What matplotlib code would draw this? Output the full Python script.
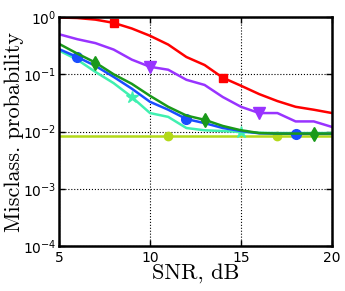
import numpy as np
import matplotlib
matplotlib.use("Agg")
import matplotlib.pyplot as plt

snr = [5, 6, 7, 8, 9, 10, 11, 12, 13, 14, 15, 16, 17, 18, 19, 20]

# misclassification probability per method
red = [0.98, 0.96, 0.9, 0.79, 0.63, 0.47, 0.33, 0.2, 0.145, 0.087, 0.063, 0.045, 0.034, 0.027, 0.024, 0.021]
purple = [0.5, 0.41, 0.35, 0.27, 0.18, 0.135, 0.12, 0.08, 0.065, 0.04, 0.027, 0.021, 0.021, 0.015, 0.015, 0.012]
green = [0.34, 0.23, 0.16, 0.1, 0.068, 0.042, 0.027, 0.019, 0.016, 0.0125, 0.0105, 0.0094, 0.0092, 0.0092, 0.0092, 0.0092]
blue = [0.275, 0.2, 0.14, 0.09, 0.056, 0.033, 0.024, 0.0165, 0.014, 0.0115, 0.0102, 0.0093, 0.0092, 0.0091, 0.0091, 0.0091]
cyan = [0.26, 0.18, 0.11, 0.07, 0.04, 0.021, 0.018, 0.0115, 0.0105, 0.0102, 0.0098, 0.0095, 0.0094, 0.0094, 0.0094, 0.0094]
ygreen = [0.0085] * 16

fig = plt.figure(figsize=(3.45, 2.91), dpi=100)
ax = fig.add_axes([59/345, 1 - 246/291, (332-59)/345, (246-17)/291])

lw = 1.8
ax.plot(snr, ygreen, color='#b3d91a', lw=lw, marker='o', ms=6, markevery=[6, 12])
ax.plot(snr, cyan, color='#40f0b0', lw=lw, marker='*', ms=9, markevery=[4, 10])
ax.plot(snr, blue, color='#1a4dff', lw=lw, marker='o', ms=7, markevery=[1, 7, 13])
ax.plot(snr, green, color='#1a991a', lw=lw, marker='d', ms=7, markevery=[2, 8, 14])
ax.plot(snr, purple, color='#9933ff', lw=lw, marker='v', ms=8, markevery=[5, 11])
ax.plot(snr, red, color='#ff0000', lw=lw, marker='s', ms=6, markevery=[3, 9])

ax.set_yscale('log')
ax.set_xlim(5, 20)
ax.set_ylim(1e-4, 1)
ax.set_xticks([5, 10, 15, 20])
ax.set_yticks([1e-4, 1e-3, 1e-2, 1e-1, 1])
ax.minorticks_off()
ax.grid(True, color='k', ls=':', lw=0.8)
ax.tick_params(direction='in', labelsize=10, length=4, width=1, top=True, right=True)
ax.tick_params(axis='y', pad=2)
for s in ax.spines.values():
    s.set_linewidth(1.8)

ax.set_xlabel('SNR, dB', family='cmr10', fontsize=16, labelpad=-1)
ax.set_ylabel('Misclass. probability', family='cmr10', fontsize=16)
ax.yaxis.set_label_coords(-0.13, 0.5)

fig.savefig('out.png', dpi=100)
